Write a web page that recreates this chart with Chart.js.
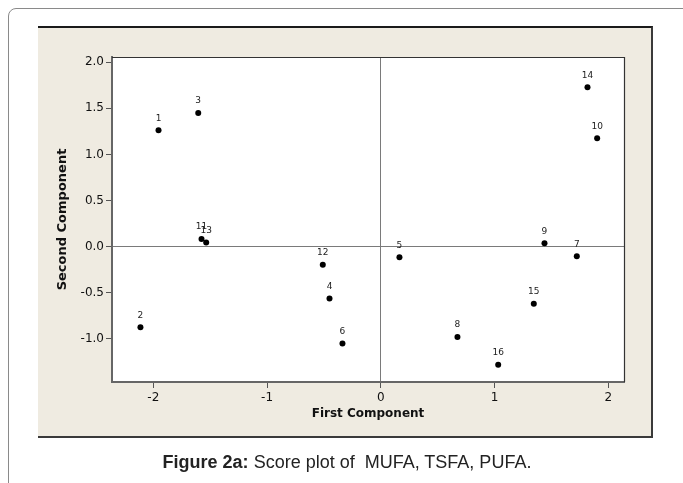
<!DOCTYPE html>
<html>
<head>
<meta charset="utf-8">
<script src="https://cdn.jsdelivr.net/npm/chart.js@4.4.1/dist/chart.umd.min.js"></script>
<style>
  html, body { margin: 0; padding: 0; background: #ffffff; }
  #wrap { position: relative; width: 683px; height: 483px; overflow: hidden; }
  #frame { position: absolute; left: 8px; top: 8px; width: 720px; height: 520px;
           border: 1.5px solid #8a8a8a; border-radius: 8px; box-sizing: border-box; }
  #panel { position: absolute; left: 38px; top: 26px; width: 615px; height: 412px;
           background: #efebe1; border-top: 2px solid #1a1a1a; border-right: 2px solid #3a3a3a;
           border-bottom: 2px solid #3a3a3a; box-sizing: border-box; }
  #caption { position: absolute; left: 0; width: 694px; top: 451px; text-align: center;
             font-family: "Liberation Sans", Arial, sans-serif; font-size: 18px; line-height: 22px; color: #222; }
  #caption b { font-weight: bold; }
  canvas { position: absolute; left: 0; top: 0; }
</style>
</head>
<body>
<div id="wrap">
  <div id="frame"></div>
  <div id="panel"></div>
  <canvas id="c" width="683" height="483"></canvas>
  <div id="caption"><b>Figure 2a:</b> Score plot of&nbsp; MUFA, TSFA, PUFA.</div>
</div>
<script>
// ---- data ----
const pointLabels = ["1","2","3","4","5","6","7","8","9","10","11","12","13","14","15","16"];
const firstComponent  = [-1.954, -2.113, -1.605, -0.451, 0.164, -0.337, 1.723, 0.674, 1.439, 1.902, -1.576, -0.510, -1.535, 1.817, 1.345, 1.032];
const secondComponent = [ 1.262, -0.874,  1.450, -0.560, -0.115, -1.048, -0.104, -0.979, 0.037, 1.176, 0.083, -0.195, 0.047, 1.729, -0.618, -1.280];
const xTicks = [-2, -1, 0, 1, 2];
const yTicks = [-1.0, -0.5, 0.0, 0.5, 1.0, 1.5, 2.0];
const xTitle = "First Component";
const yTitle = "Second Component";

const points = firstComponent.map((x, i) => ({ x: x, y: secondComponent[i] }));

const plotDecor = {
  id: 'plotDecor',
  beforeDraw(chart) {
    const a = chart.chartArea, ctx = chart.ctx;
    ctx.save();
    ctx.fillStyle = '#ffffff';
    ctx.fillRect(a.left, a.top, a.right - a.left, a.bottom - a.top);
    ctx.restore();
  },
  afterDatasetsDraw(chart) {
    const a = chart.chartArea, ctx = chart.ctx;
    ctx.save();
    ctx.strokeStyle = '#333333';
    ctx.lineWidth = 1.2;
    ctx.beginPath();
    ctx.moveTo(a.left, a.top + 0.5);
    ctx.lineTo(a.right + 0.5, a.top + 0.5);
    ctx.lineTo(a.right + 0.5, a.bottom);
    ctx.stroke();
    // point labels
    const meta = chart.getDatasetMeta(0);
    ctx.fillStyle = '#222222';
    ctx.font = '9px "DejaVu Sans", sans-serif';
    ctx.textAlign = 'center';
    ctx.textBaseline = 'middle';
    meta.data.forEach((el, i) => {
      ctx.fillText(pointLabels[i], el.x, el.y - 12);
    });
    ctx.restore();
  }
};

new Chart(document.getElementById('c'), {
  type: 'scatter',
  data: {
    datasets: [{
      data: points,
      backgroundColor: '#000000',
      borderWidth: 0,
      pointRadius: 3,
      pointHoverRadius: 3
    }]
  },
  options: {
    responsive: false,
    animation: false,
    events: [],
    layout: { padding: { left: 50, top: 57, right: 59, bottom: 61 } },
    plugins: { legend: { display: false }, tooltip: { enabled: false } },
    scales: {
      x: {
        type: 'linear',
        min: -2.363, max: 2.138,
        afterBuildTicks(s) { s.ticks = xTicks.map(v => ({ value: v })); },
        afterFit(s) { s.height = 40; },
        ticks: { color: '#111', padding: 3, font: { family: '"DejaVu Sans", sans-serif', size: 12 },
                 callback: v => String(v) },
        grid: { drawOnChartArea: true, tickLength: 6, tickColor: '#555', lineWidth: 1,
                color: c => (c.tick && c.tick.value === 0) ? '#7a7a7a' : 'rgba(0,0,0,0)' },
        border: { display: true, color: '#666', width: 2 },
        title: { display: true, text: xTitle, color: '#111', padding: { top: 0, bottom: 1 },
                 font: { family: '"DejaVu Sans", sans-serif', size: 12, weight: 'bold' } }
      },
      y: {
        type: 'linear',
        min: -1.466, max: 2.056,
        afterBuildTicks(s) { s.ticks = yTicks.map(v => ({ value: v })); },
        afterFit(s) { s.width = 62; },
        ticks: { color: '#111', padding: 2, font: { family: '"DejaVu Sans", sans-serif', size: 12 },
                 callback: v => Number(v).toFixed(1) },
        grid: { drawOnChartArea: true, tickLength: 6, tickColor: '#555', lineWidth: 1,
                color: c => (c.tick && c.tick.value === 0) ? '#7a7a7a' : 'rgba(0,0,0,0)' },
        border: { display: true, color: '#666', width: 2 },
        title: { display: true, text: yTitle, color: '#111', padding: { top: 5, bottom: 0 },
                 font: { family: '"DejaVu Sans", sans-serif', size: 13, weight: 'bold' } }
      }
    }
  },
  plugins: [plotDecor]
});
</script>
</body>
</html>
